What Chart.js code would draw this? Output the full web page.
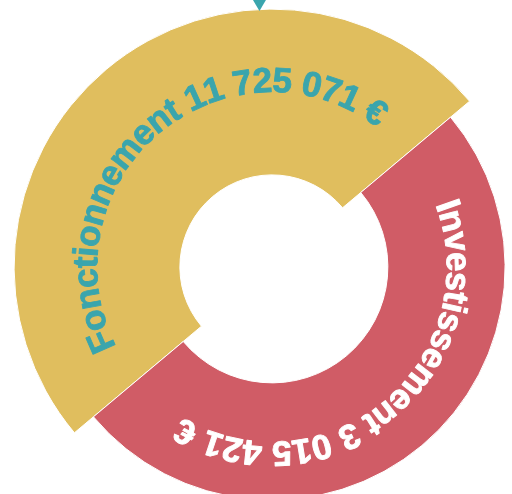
<!DOCTYPE html>
<html>
<head>
<meta charset="utf-8">
<script src="https://cdn.jsdelivr.net/npm/chart.js@4.4.1/dist/chart.umd.min.js"></script>
<style>
  html, body { margin: 0; padding: 0; background: #ffffff; }
  #wrap { position: relative; width: 512px; height: 494px; overflow: hidden; }
  #c { position: absolute; left: 0; top: 0; }
</style>
</head>
<body>
<div id="wrap"><canvas id="c" width="544" height="534"></canvas></div>
<script>
// ---- data ----
const categories = ['Fonctionnement', 'Investissement'];
const amounts = [11725071, 3015421];          // values shown in the labels (€)
const sliceWeights = [1, 1];                  // each slice fills half of the ring in the picture

// ---- styles ----
const sliceColors = ['#E0BE5E', '#D05C66'];
const labelColors = ['#3AA5AD', '#FFFFFF'];
const ringInner = [0.345, 0.434];             // fraction of the chart radius
const ringOuter = [0.966, 0.873];
const textRadius = 0.655;                     // baseline radius, fraction of chart radius
const labelFont = 'bold 35px "Liberation Sans", Arial, sans-serif';
const letterSpacing = -0.6;
const strokeExtra = 0.9;
const pointerColor = '#3AA5AD';

function fmt(n) {
  return String(n).replace(/\B(?=(\d{3})+(?!\d))/g, ' ') + ' €';
}
const labels = categories.map((c, i) => c + ' ' + fmt(amounts[i]));

const ringPlugin = {
  id: 'ringPlugin',
  afterDatasetsUpdate(chart) {
    const meta = chart.getDatasetMeta(0);
    const R = Math.min(chart.chartArea.width, chart.chartArea.height) / 2;
    meta.data.forEach((el, i) => {
      el.innerRadius = R * ringInner[i];
      el.outerRadius = R * ringOuter[i];
    });
  },
  afterDatasetsDraw(chart) {
    const ctx = chart.ctx;
    const meta = chart.getDatasetMeta(0);
    const R = Math.min(chart.chartArea.width, chart.chartArea.height) / 2;
    const r = R * textRadius;
    ctx.save();
    ctx.font = labelFont;
    ctx.textAlign = 'center';
    ctx.textBaseline = 'alphabetic';
    ctx.lineJoin = 'round';
    meta.data.forEach((el, i) => {
      const text = labels[i];
      const chars = Array.from(text);
      const widths = chars.map(ch => ctx.measureText(ch).width + letterSpacing);
      const total = widths.reduce((a, b) => a + b, 0) - letterSpacing;
      const mid = (el.startAngle + el.endAngle) / 2;
      let a = mid - total / 2 / r;
      ctx.fillStyle = labelColors[i];
      ctx.strokeStyle = labelColors[i];
      ctx.lineWidth = strokeExtra;
      chars.forEach((ch, k) => {
        const w = widths[k] - letterSpacing;
        const th = a + (w / 2) / r;
        ctx.save();
        ctx.translate(el.x + r * Math.cos(th), el.y + r * Math.sin(th));
        ctx.rotate(th + Math.PI / 2);
        ctx.fillText(ch, 0, 0);
        if (ch.trim()) ctx.strokeText(ch, 0, 0);
        ctx.restore();
        a += widths[k] / r;
      });
    });
    // pointer at the top
    const cx = (chart.chartArea.left + chart.chartArea.right) / 2;
    const px = cx - R * 0.047;
    ctx.fillStyle = pointerColor;
    ctx.beginPath();
    ctx.moveTo(px - 6.5, 0);
    ctx.lineTo(px + 6.5, 0);
    ctx.lineTo(px, 11);
    ctx.closePath();
    ctx.fill();
    ctx.restore();
  }
};

new Chart(document.getElementById('c'), {
  type: 'doughnut',
  data: {
    labels: categories,
    datasets: [{
      data: sliceWeights,
      backgroundColor: sliceColors,
      borderColor: '#ffffff',
      borderWidth: 1,
      hoverOffset: 0
    }]
  },
  options: {
    responsive: false,
    devicePixelRatio: 1,
    animation: false,
    rotation: 230,
    cutout: '40%',
    layout: { padding: 0 },
    events: [],
    plugins: {
      legend: { display: false },
      tooltip: { enabled: false }
    }
  },
  plugins: [ringPlugin]
});
</script>
</body>
</html>
